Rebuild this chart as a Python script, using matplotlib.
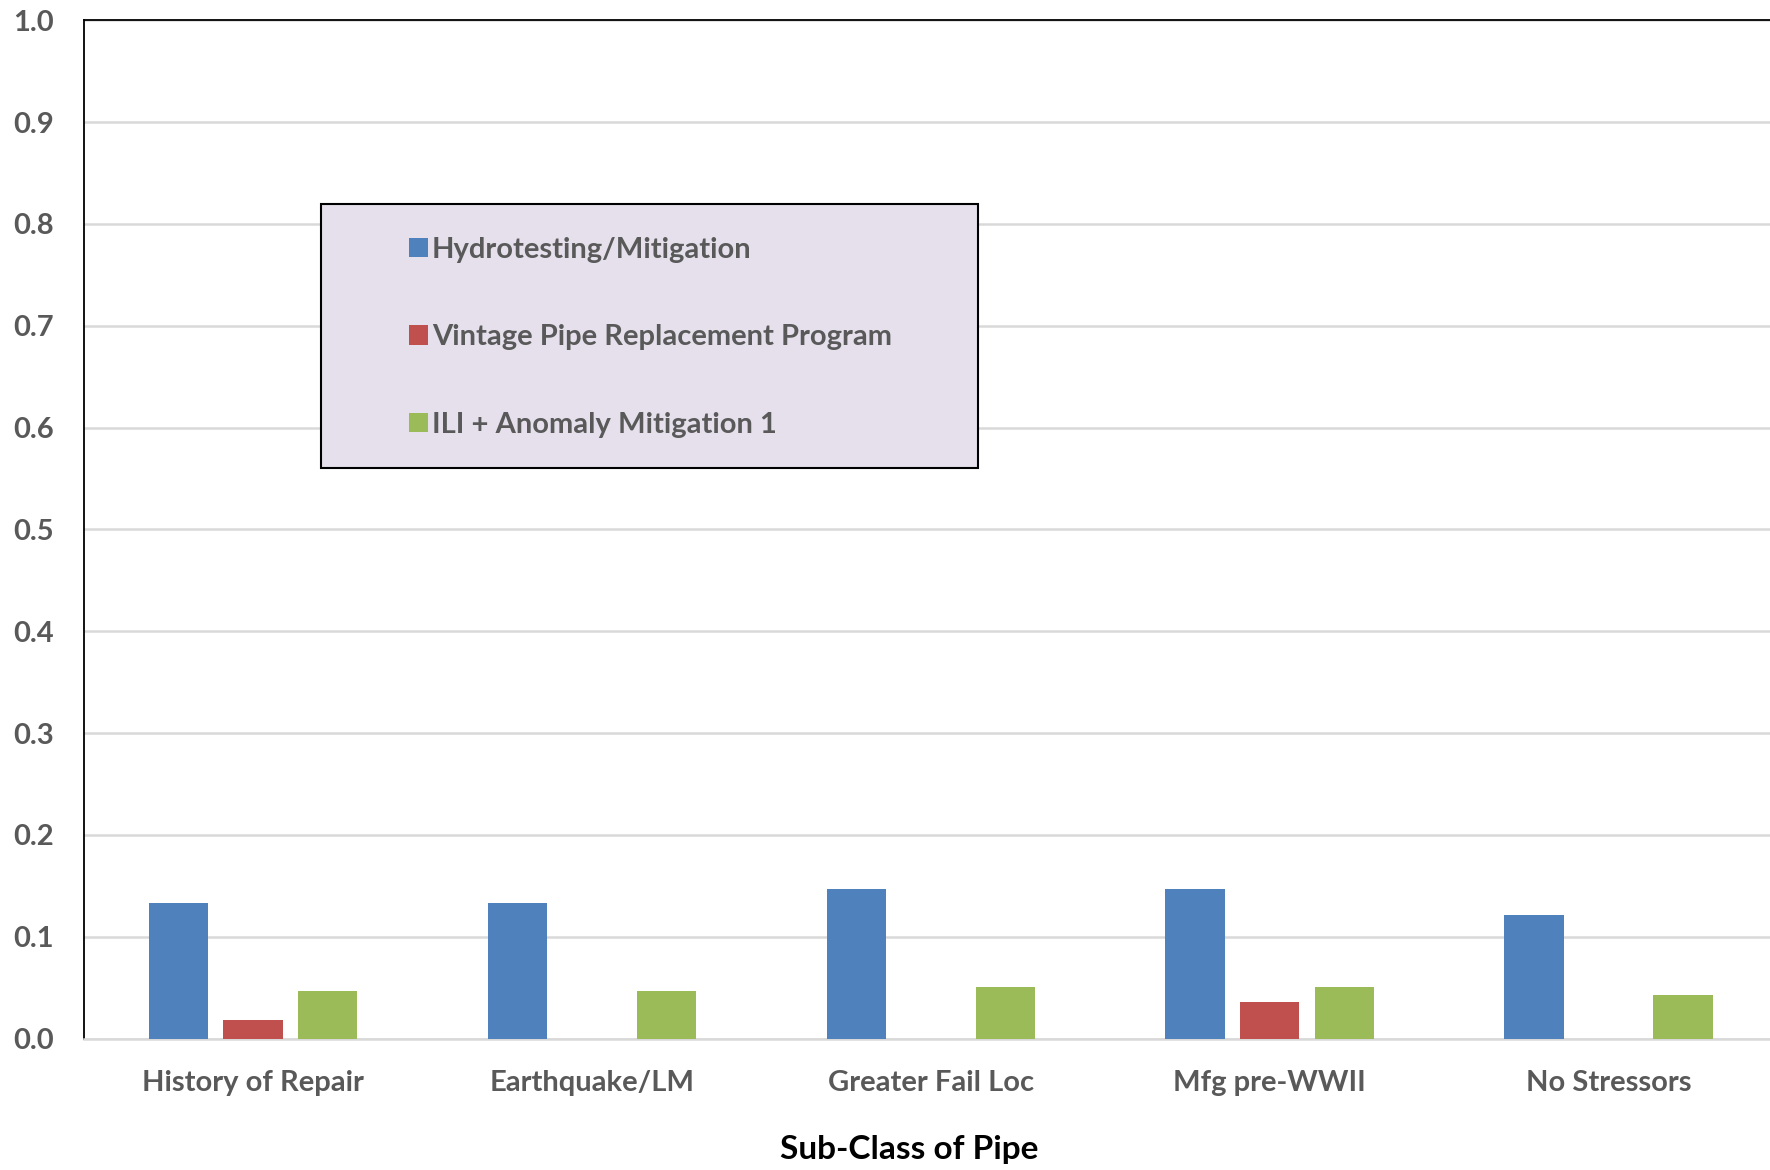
import numpy as np
import matplotlib
matplotlib.use("Agg")
import matplotlib.pyplot as plt
from matplotlib.patches import Rectangle, Patch

# data
categories = ["History of Repair", "Earthquake/LM", "Greater Fail Loc", "Mfg pre-WWII", "No Stressors"]
hydrotesting = [0.133, 0.133, 0.147, 0.147, 0.121]
vintage = [0.018, 0.0, 0.0, 0.036, 0.0]
ili = [0.047, 0.047, 0.051, 0.051, 0.043]
series_names = ["Hydrotesting/Mitigation", "Vintage Pipe Replacement Program", "ILI + Anomaly Mitigation 1"]
colors = ["#4F81BD", "#C0504D", "#9BBB59"]
yticks = [0.0, 0.1, 0.2, 0.3, 0.4, 0.5, 0.6, 0.7, 0.8, 0.9, 1.0]

plt.rcParams['font.family'] = ['Lato', 'DejaVu Sans']
plt.rcParams['font.weight'] = 'bold'

W, H = 1770, 1170
fig = plt.figure(figsize=(W / 100, H / 100), dpi=100)
ax = fig.add_axes([83.5 / W, 1 - 1038.5 / H, (1778 - 83.5) / W, (1038.5 - 20.3) / H])

x = np.arange(len(categories))
bw = 0.175
step = 0.22
for i, vals in enumerate([hydrotesting, vintage, ili]):
    ax.bar(x + (i - 1) * step, vals, width=bw, color=colors[i], zorder=3)

ax.set_xlim(-0.5, len(categories) - 0.5)
ax.set_ylim(0, 1.0)
ax.set_yticks(yticks)
ax.set_yticklabels([f"{v:.1f}" for v in yticks])
ax.set_xticks(x)
ax.set_xticklabels(categories)
ax.tick_params(axis='both', length=0, labelsize=21, labelcolor="#595959")
ax.tick_params(axis='y', pad=21.5)
ax.tick_params(axis='x', pad=22.5)
ax.grid(axis='y', color="#D9D9D9", linewidth=1.8, zorder=0)
ax.set_axisbelow(True)

ax.spines['right'].set_visible(False)
ax.spines['bottom'].set_color("#D9D9D9")
ax.spines['bottom'].set_linewidth(1.8)
ax.spines['left'].set_linewidth(1.3)
ax.spines['top'].set_linewidth(1.3)

fig.text(909 / W, 1 - 1150 / H, "Sub-Class of Pipe", ha='center', va='center',
         fontsize=24, fontweight='bold', color='black')

# legend box
box = Rectangle((320.6 / W, 1 - 468 / H), (977.5 - 320.6) / W, (468 - 204) / H,
                transform=fig.transFigure, facecolor="#E5E0EC", edgecolor='black',
                linewidth=1.5, zorder=5)
fig.patches.append(box)
handles = [Patch(facecolor=c, edgecolor='none') for c in colors]
leg = fig.legend(handles, series_names, loc='upper left',
                 bbox_to_anchor=(383 / W, 1 - 210.5 / H), frameon=False,
                 handlelength=0.65, handleheight=0.65, handletextpad=0.13,
                 labelspacing=2.11, fontsize=21, labelcolor="#595959")
leg.set_zorder(6)

fig.savefig("out.png", dpi=100)
